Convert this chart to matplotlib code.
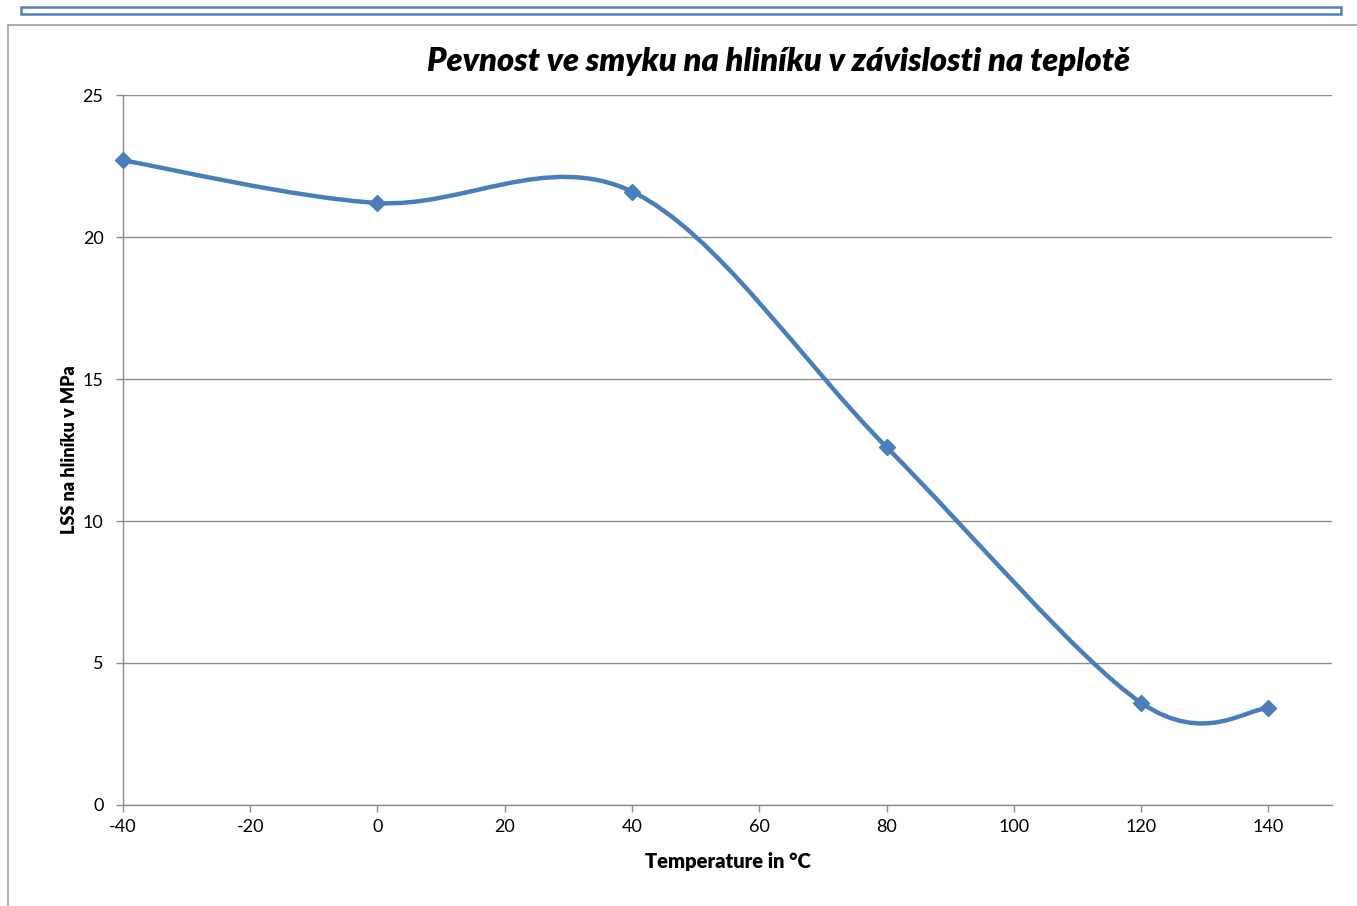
import numpy as np
import matplotlib
matplotlib.use("Agg")
import matplotlib.pyplot as plt
from matplotlib.path import Path
from matplotlib.patches import PathPatch, Rectangle
from matplotlib.lines import Line2D

# data
temps = [-40, 0, 40, 80, 120, 140]
lss = [22.7, 21.2, 21.6, 12.6, 3.6, 3.4]
xticks = [-40, -20, 0, 20, 40, 60, 80, 100, 120, 140]
yticks = [0, 5, 10, 15, 20, 25]

title = "Pevnost ve smyku na hliníku v závislosti na teplotě"
xlabel = "Temperature in °C"
ylabel = "LSS na hliníku v MPa"

line_col = "#4a7ebb"
grid_col = "#8c8c8c"

plt.rcParams["font.family"] = ["Lato", "DejaVu Sans"]


def smooth_path(xs, ys):
    """ Excel-like smoothed line as cubic bezier segments (catmull-rom) """
    pts = np.column_stack([xs, ys]).astype(float)
    n = len(pts)
    verts = [pts[0]]
    codes = [Path.MOVETO]
    for i in range(n - 1):
        p0 = pts[i - 1] if i > 0 else pts[i]
        p1 = pts[i]
        p2 = pts[i + 1]
        p3 = pts[i + 2] if i + 2 < n else pts[i + 1]
        c1 = p1 + (p2 - p0) / 6.0
        c2 = p2 - (p3 - p1) / 6.0
        verts += [c1, c2, p2]
        codes += [Path.CURVE4] * 3
    return Path(verts, codes)


fig = plt.figure(figsize=(13.57, 9.06), dpi=100)
ax = fig.add_axes([0.0906, 0.1115, 0.8910, 0.7836])

# outer decorations (chart area border + blue box on top)
fig.add_artist(Line2D([8 / 1357, 8 / 1357], [0, 1 - 25 / 906], transform=fig.transFigure,
                      color="#a0a0a0", lw=1.2))
fig.add_artist(Line2D([8 / 1357, 1], [1 - 25 / 906, 1 - 25 / 906], transform=fig.transFigure,
                      color="#a0a0a0", lw=1.2))
fig.add_artist(Rectangle((21 / 1357, 1 - 14 / 906), 1320 / 1357, 7 / 906, transform=fig.transFigure,
                         facecolor="white", edgecolor="#4f81bd", lw=1.8))

ax.add_patch(PathPatch(smooth_path(temps, lss), facecolor="none", edgecolor=line_col,
                       lw=3.2, capstyle="round", joinstyle="round", zorder=3, clip_on=False))
ax.plot(temps, lss, linestyle="none", marker="D", markersize=8.5, color=line_col,
        zorder=4, clip_on=False)

ax.set_xlim(-40, 150)
ax.set_ylim(0, 25)
ax.set_xticks(xticks)
ax.set_yticks(yticks)
ax.set_xticklabels([str(t) for t in xticks])
ax.grid(axis="y", color=grid_col, lw=1.0)
ax.set_axisbelow(True)
for s in ["top", "right"]:
    ax.spines[s].set_visible(False)
for s in ["left", "bottom"]:
    ax.spines[s].set_color(grid_col)
    ax.spines[s].set_linewidth(1.0)
ax.tick_params(colors=grid_col, labelcolor="black", labelsize=13, length=5, width=1.0)
ax.tick_params(axis="x", pad=5)
ax.tick_params(axis="y", pad=9)

ax.set_xlabel(xlabel, fontsize=14.5, fontweight="heavy", labelpad=12)
ax.set_ylabel(ylabel, fontsize=13, fontweight="heavy", labelpad=3)
fig.text(0.5735, 1 - 62 / 906, title, fontsize=23.5, fontweight="heavy", style="italic",
         ha="center", va="center")

fig.savefig("out.png", dpi=100, facecolor="white")
